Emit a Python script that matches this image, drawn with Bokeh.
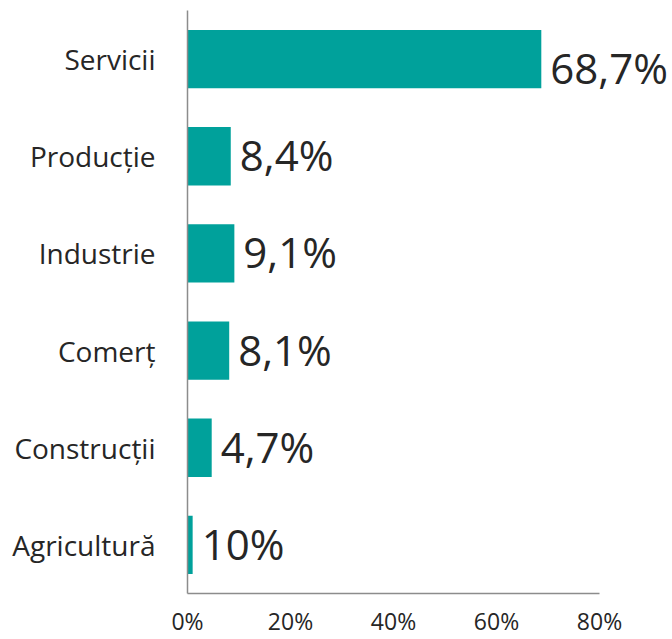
from bokeh.plotting import figure
from bokeh.models import ColumnDataSource, LabelSet, FixedTicker, Range1d, FactorRange
from bokeh.core.properties import value
from bokeh.embed import file_html
from bokeh.resources import INLINE

categories = ["Servicii", "Producție", "Industrie", "Comerț", "Construcții", "Agricultură"]
values = [68.7, 8.4, 9.1, 8.1, 4.7, 1.0]
value_labels = ["68,7%", "8,4%", "9,1%", "8,1%", "4,7%", "10%"]
tick_values = [0, 20, 40, 60, 80]
tick_labels = ["0%", "20%", "40%", "60%", "80%"]

BAR = "#00A19B"
TXT = "#262626"
FONT = "Open Sans"

W, H = 672, 639
LEFT = 187
AXIS_PX = 412  # pixels from 0% to 80%
x_end = 80 * (W - LEFT) / AXIS_PX

# label vertical placement: the longest bar's label sits a bit lower
longest = max(values)
dy = [-25 if v == longest else -15 for v in values]

src = ColumnDataSource(dict(cat=categories, val=values, lab=value_labels, dy=dy))

p = figure(
    width=W, height=H,
    y_range=FactorRange(*categories[::-1]),
    x_range=Range1d(0, x_end),
    output_backend="svg", toolbar_location=None,
    min_border_left=LEFT, min_border_right=0, min_border_top=10, min_border_bottom=5,
)
p.hbar(y="cat", right="val", left=0, height=0.6, color=BAR, line_color=None, source=src)

labels = LabelSet(x="val", y="cat", text="lab", source=src, x_offset=9, y_offset="dy",
                  text_font=value(FONT), text_font_size=value("42px"), text_color=TXT,
                  text_baseline="alphabetic", text_align="left")
p.add_layout(labels)

p.xgrid.visible = False
p.ygrid.visible = False
p.outline_line_color = None

p.xaxis.ticker = FixedTicker(ticks=tick_values)
p.xaxis.bounds = (0, 80)
p.xaxis.major_label_overrides = {v: l for v, l in zip(tick_values, tick_labels)}
for ax in (p.xaxis, p.yaxis):
    ax.major_tick_line_color = None
    ax.minor_tick_line_color = None
    ax.major_tick_out = 0
    ax.major_tick_in = 0
    ax.axis_line_color = "#8c8c8c"
    ax.axis_line_width = 1.5
    ax.major_label_text_font = FONT
    ax.major_label_text_color = TXT
p.xaxis.major_label_text_font_size = "23px"
p.xaxis.major_label_standoff = 11
p.yaxis.major_label_text_font_size = "28px"
p.yaxis.major_label_standoff = 32

open("out.html", "w").write(file_html(p, INLINE))
